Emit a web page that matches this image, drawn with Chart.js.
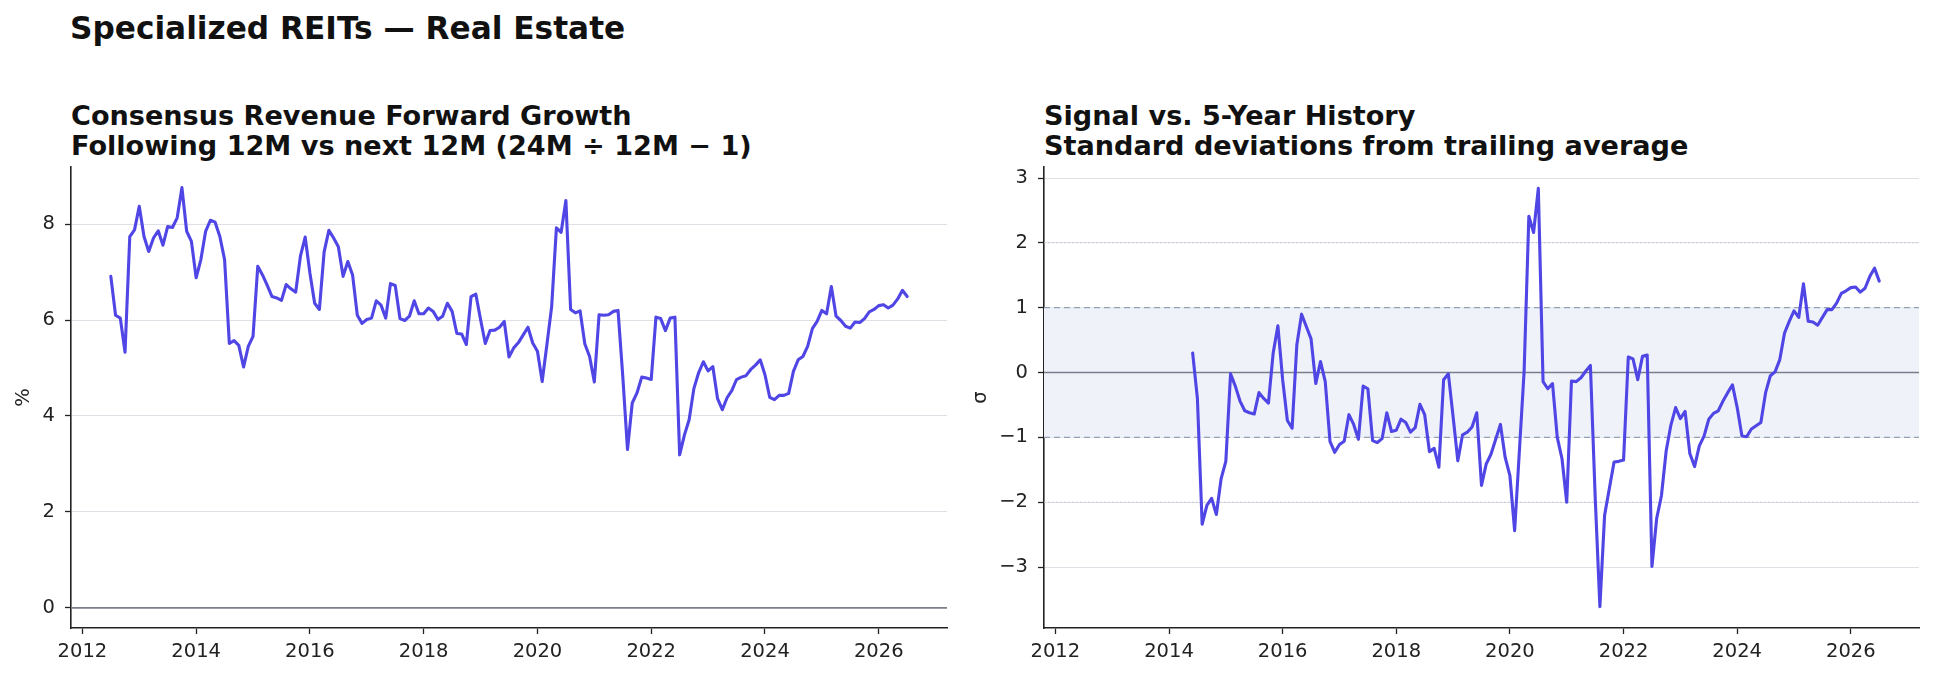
<!DOCTYPE html>
<html>
<head>
<meta charset="utf-8">
<title>Specialized REITs — Real Estate</title>
<script src="https://cdn.jsdelivr.net/npm/chart.js@4.4.1/dist/chart.umd.min.js"></script>
<style>
  html, body { margin: 0; padding: 0; background: #fff; }
  body { width: 1934px; height: 679px; position: relative; overflow: hidden;
         font-family: "DejaVu Sans", sans-serif; color: #111; }
  .suptitle { position: absolute; left: 70px; top: 10px; font-size: 31.2px; line-height: 37px;
              font-weight: bold; white-space: nowrap; }
  .subtitle { position: absolute; top: 101px; font-size: 27.1px; line-height: 30px;
              font-weight: bold; white-space: nowrap; }
  .panel { position: absolute; top: 0; width: 967px; height: 679px; }
</style>
</head>
<body>
<div class="suptitle">Specialized REITs — Real Estate</div>
<div class="subtitle" style="left:71px">Consensus Revenue Forward Growth<br>Following 12M vs next 12M (24M ÷ 12M − 1)</div>
<div class="subtitle" style="left:1044px">Signal vs. 5-Year History<br>Standard deviations from trailing average</div>
<div class="panel" style="left:0"><canvas id="growthChart" width="967" height="679"></canvas></div>
<div class="panel" style="left:967px"><canvas id="zChart" width="967" height="679"></canvas></div>

<script>
// ============================================================
// Data – monthly readings
// ============================================================

const xTicks      = [2012, 2014, 2016, 2018, 2020, 2022, 2024, 2026];
const growthTicks = [0, 2, 4, 6, 8];
const zTicks      = [-3, -2, -1, 0, 1, 2, 3];

const growthStart = { year: 2012, month: 7 };
const zStart      = { year: 2014, month: 6 };

// Consensus revenue forward growth, %
const growthValues = [
  6.91, 6.10, 6.04, 5.33, 7.74, 7.88, 8.37, 7.74, 7.43, 7.71, 7.86, 7.56,
  7.95, 7.93, 8.13, 8.76, 7.85, 7.64, 6.88, 7.26, 7.85, 8.08, 8.04, 7.74,
  7.26, 5.51, 5.57, 5.47, 5.02, 5.45, 5.66, 7.12, 6.94, 6.72, 6.49, 6.46,
  6.41, 6.74, 6.65, 6.58, 7.33, 7.73, 6.98, 6.35, 6.22, 7.42, 7.87, 7.71,
  7.53, 6.91, 7.22, 6.94, 6.10, 5.93, 6.01, 6.04, 6.40, 6.31, 6.04, 6.76,
  6.72, 6.03, 5.99, 6.08, 6.40, 6.13, 6.13, 6.25, 6.18, 6.01, 6.08, 6.35,
  6.18, 5.72, 5.71, 5.49, 6.49, 6.54, 6.01, 5.51, 5.78, 5.79, 5.85, 5.97,
  5.23, 5.42, 5.53, 5.69, 5.85, 5.52, 5.35, 4.72, 5.49, 6.28, 7.92, 7.83,
  8.49, 6.22, 6.15, 6.19, 5.50, 5.24, 4.71, 6.11, 6.10, 6.11, 6.18, 6.20,
  4.83, 3.30, 4.27, 4.48, 4.81, 4.79, 4.76, 6.06, 6.03, 5.78, 6.04, 6.06,
  3.19, 3.60, 3.92, 4.57, 4.90, 5.13, 4.94, 5.03, 4.36, 4.13, 4.38, 4.53,
  4.76, 4.81, 4.84, 4.97, 5.06, 5.17, 4.86, 4.39, 4.34, 4.43, 4.43, 4.47,
  4.93, 5.17, 5.24, 5.45, 5.82, 5.97, 6.20, 6.13, 6.70, 6.08, 5.99, 5.87,
  5.83, 5.96, 5.95, 6.03, 6.17, 6.22, 6.30, 6.32, 6.25, 6.31, 6.44, 6.62,
  6.49
];

// Z-score vs trailing 5-year history, σ
const zValues = [
   0.30, -0.40, -2.34, -2.05, -1.94, -2.19, -1.64, -1.37, -0.02, -0.21, -0.44, -0.59,
  -0.62, -0.64, -0.31, -0.40, -0.47,  0.30,  0.72, -0.11, -0.74, -0.86,  0.43,  0.90,
   0.71,  0.52, -0.17,  0.17, -0.14, -1.06, -1.23, -1.11, -1.06, -0.65, -0.80, -1.03,
  -0.21, -0.25, -1.05, -1.08, -1.02, -0.62, -0.91, -0.89, -0.72, -0.77, -0.92, -0.85,
  -0.49, -0.65, -1.22, -1.17, -1.46, -0.11, -0.02, -0.68, -1.36, -0.96, -0.92, -0.84,
  -0.62, -1.74, -1.41, -1.26, -1.03, -0.80, -1.31, -1.59, -2.44, -1.21,  0.02,  2.41,
   2.16,  2.84, -0.14, -0.25, -0.17, -1.00, -1.33, -2.00, -0.13, -0.14, -0.08,  0.02,
   0.11, -1.90, -3.61, -2.20, -1.79, -1.38, -1.37, -1.35,  0.24,  0.21, -0.11,  0.25,
   0.27, -2.99, -2.25, -1.90, -1.21, -0.81, -0.54, -0.71, -0.60, -1.25, -1.45, -1.13,
  -0.98, -0.72, -0.63, -0.59, -0.44, -0.31, -0.19, -0.54, -0.98, -0.99, -0.87, -0.82,
  -0.77, -0.31, -0.05,  0.01,  0.20,  0.61,  0.79,  0.95,  0.85,  1.37,  0.79,  0.78,
   0.73,  0.85,  0.97,  0.97,  1.07,  1.22,  1.26,  1.31,  1.32,  1.24,  1.30,  1.48,
   1.61,  1.41
];

// ── Styling ──────────────────────────────────────────────────
const FONT       = '"DejaVu Sans", sans-serif';
const TICK_FONT  = { family: FONT, size: 19.5 };
const LINE_COLOR = '#4f46e5';
const INK        = '#222';

// ── Helpers ──────────────────────────────────────────────────
function toPoints(start, values) {
  return values.map((v, i) => ({ x: start.year + (start.month - 1 + i) / 12, y: v }));
}

function minusSign(v) {
  return v < 0 ? '\u2212' + Math.abs(v) : String(v);
}

// horizontal reference lines + shaded band, drawn under the series
const refLinesPlugin = {
  id: 'refLines',
  beforeDatasetsDraw(chart, args, opts) {
    const { ctx, chartArea: a, scales: { y } } = chart;
    ctx.save();
    ctx.beginPath();
    ctx.rect(a.left, a.top, a.width, a.height);
    ctx.clip();

    if (opts.band) {
      const y1 = y.getPixelForValue(opts.band[1]);
      const y0 = y.getPixelForValue(opts.band[0]);
      ctx.fillStyle = opts.bandColor;
      ctx.fillRect(a.left, y1, a.width, y0 - y1);
    }

    (opts.lines || []).forEach(l => {
      const py = y.getPixelForValue(l.value);
      ctx.beginPath();
      ctx.setLineDash(l.dash || []);
      ctx.strokeStyle = l.color;
      ctx.lineWidth = l.width;
      ctx.moveTo(a.left, py);
      ctx.lineTo(a.right, py);
      ctx.stroke();
    });
    ctx.restore();
  }
};

// ── Chart builder ────────────────────────────────────────────
function buildChart(canvasId, cfg) {
  const ctx = document.getElementById(canvasId).getContext('2d');
  return new Chart(ctx, {
    type: 'line',
    data: {
      datasets: [{
        data: cfg.points,
        borderColor: LINE_COLOR,
        borderWidth: 3.1,
        borderJoinStyle: 'round',
        borderCapStyle: 'round',
        pointRadius: 0,
        tension: 0,
        fill: false
      }]
    },
    options: {
      responsive: false,
      animation: false,
      layout: { padding: cfg.padding },
      plugins: {
        legend: { display: false },
        tooltip: { enabled: false },
        refLines: cfg.refLines
      },
      scales: {
        x: {
          type: 'linear',
          min: 2011.8,
          max: 2027.2,
          afterBuildTicks: s => { s.ticks = xTicks.map(v => ({ value: v })); },
          afterFit: s => { s.height = 45; },
          grid: { drawOnChartArea: false, tickLength: 6, tickColor: INK, tickWidth: 1.3 },
          border: { color: INK, width: 1.6 },
          ticks: { color: INK, font: TICK_FONT, padding: 6, maxRotation: 0, callback: v => String(v) }
        },
        y: {
          type: 'linear',
          min: cfg.yMin,
          max: cfg.yMax,
          afterBuildTicks: s => { s.ticks = cfg.yTicks.map(v => ({ value: v })); },
          afterFit: s => { s.width = cfg.yWidth; },
          grid: { color: '#dfe0e6', lineWidth: 1, tickLength: 6, tickColor: INK, tickWidth: 1.3 },
          border: { color: INK, width: 1.6 },
          ticks: { color: INK, font: TICK_FONT, padding: 10, callback: minusSign },
          title: { display: true, text: cfg.yTitle, color: INK, font: TICK_FONT,
                   padding: { top: cfg.titlePad, bottom: 0 } }
        }
      }
    },
    plugins: [refLinesPlugin]
  });
}

// ── Left: forward growth ─────────────────────────────────────
buildChart('growthChart', {
  points: toPoints(growthStart, growthValues),
  yMin: -0.42, yMax: 9.19,
  yTicks: growthTicks,
  yTitle: '%',
  yWidth: 71,
  titlePad: 12,
  padding: { top: 167, right: 20, bottom: 6, left: 0 },
  refLines: {
    lines: [{ value: 0, color: '#7a7d8a', width: 1.6 }]
  }
});

// ── Right: z-score vs history ────────────────────────────────
buildChart('zChart', {
  points: toPoints(zStart, zValues),
  yMin: -3.94, yMax: 3.17,
  yTicks: zTicks,
  yTitle: 'σ',
  yWidth: 77,
  titlePad: 2,
  padding: { top: 167, right: 15, bottom: 6, left: 0 },
  refLines: {
    band: [-1, 1],
    bandColor: '#eff3f9',
    lines: [
      { value: 2,  color: '#bcc6d6', width: 1,   dash: [1.5, 2.5] },
      { value: -2, color: '#bcc6d6', width: 1,   dash: [1.5, 2.5] },
      { value: 1,  color: '#95a0b4', width: 1.3, dash: [6, 4] },
      { value: -1, color: '#95a0b4', width: 1.3, dash: [6, 4] },
      { value: 0,  color: '#7a7d8a', width: 1.6 }
    ]
  }
});
</script>
</body>
</html>
